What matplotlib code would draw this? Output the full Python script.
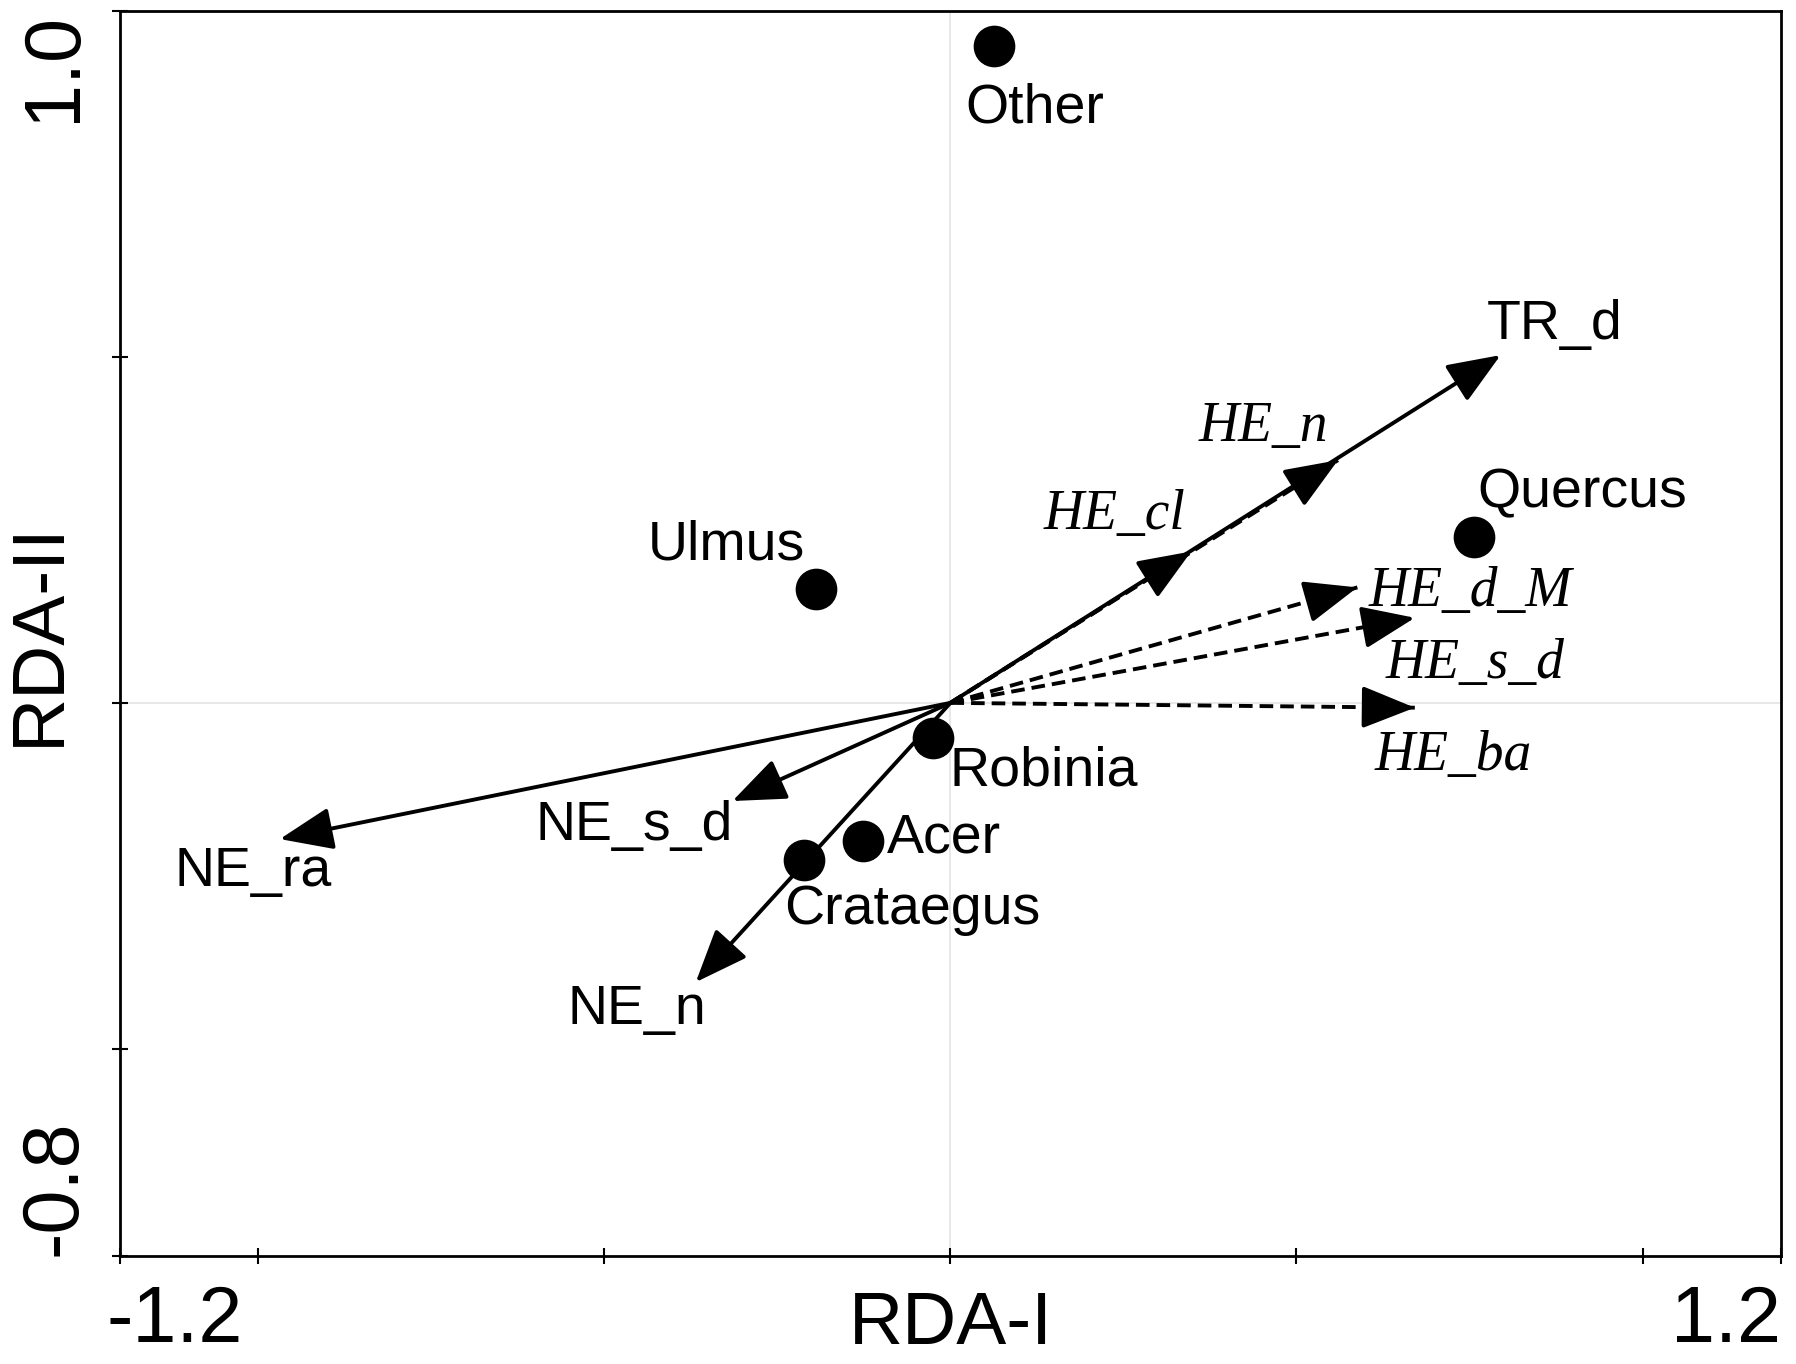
import matplotlib.pyplot as plt
import matplotlib.transforms as mtransforms

plt.rcParams['font.family'] = ['Liberation Sans', 'DejaVu Sans']

# species scores
species = ['Other', 'Quercus', 'Ulmus', 'Robinia', 'Acer', 'Crataegus']
sp_x = [0.063, 0.757, -0.194, -0.025, -0.126, -0.212]
sp_y = [0.950, 0.240, 0.164, -0.051, -0.200, -0.228]

# environmental vectors
env = ['TR_d', 'HE_n', 'HE_cl', 'HE_d_M', 'HE_s_d', 'HE_ba', 'NE_ra', 'NE_s_d', 'NE_n']
env_x = [0.795, 0.560, 0.348, 0.588, 0.671, 0.671, -0.969, -0.315, -0.368]
env_y = [0.503, 0.351, 0.219, 0.167, 0.123, -0.007, -0.197, -0.142, -0.404]
env_dashed = [False, True, True, True, True, True, False, False, False]

xticks = [-1.2, -1.0, -0.5, 0.0, 0.5, 1.0, 1.2]
xticklabels = ['-1.2', '', '', '', '', '', '1.2']
yticks = [-0.8, -0.5, 0.0, 0.5, 1.0]
yticklabels = ['-0.8', '', '', '', '1.0']

# label placement (offset points, ha)
sp_lab = {'Other': (29, -45, 'center'), 'Quercus': (2, 31, 'left'),
          'Ulmus': (-8, 32, 'right'), 'Robinia': (12, -24, 'left'),
          'Acer': (17, 2, 'left'), 'Crataegus': (-14, -36, 'left')}
env_lab = {'TR_d': (-10, 22, 'left'), 'HE_n': (-7, 24, 'right'),
           'HE_cl': (-4, 26, 'right'), 'HE_d_M': (8, -3, 'left'),
           'HE_s_d': (-21, -33, 'left'), 'HE_ba': (-29, -35, 'left'),
           'NE_ra': (-76, -24, 'left'), 'NE_s_d': (0, -18, 'right'),
           'NE_n': (-92, -20, 'left')}

fig = plt.figure(figsize=(17.96, 13.64), dpi=100)
ax = fig.add_axes([0.0668, 0.0792, 0.9248, 0.9124])
ax.set_xlim(-1.2, 1.2)
ax.set_ylim(-0.8, 1.0)

ax.axhline(0, color='#e4e4e4', lw=1.2, zorder=0)
ax.axvline(0, color='#e4e4e4', lw=1.2, zorder=0)

head = dict(arrowstyle='-|>,head_length=1.5,head_width=0.6', mutation_scale=22,
            color='black', lw=2.8, shrinkA=0, shrinkB=0)

for name, x, y, d in zip(env, env_x, env_y, env_dashed):
    if d:
        ax.plot([0, x], [0, y], color='black', lw=2.8, ls=(0, (3.5, 1.8)), zorder=2)
        ax.annotate('', xy=(x, y), xytext=(x * 0.9, y * 0.9),
                    arrowprops=head, zorder=3)
    else:
        ax.annotate('', xy=(x, y), xytext=(0, 0), arrowprops=head, zorder=3)
    dx, dy, ha = env_lab[name]
    if name.startswith('HE'):
        fp = dict(family='Liberation Serif', style='italic', fontsize=40)
    else:
        fp = dict(fontsize=40)
    ax.annotate(name, xy=(x, y), xytext=(dx, dy), textcoords='offset points',
                ha=ha, va='center', **fp)

ax.plot(sp_x, sp_y, 'o', color='black', ms=29, zorder=5)
for name, x, y in zip(species, sp_x, sp_y):
    dx, dy, ha = sp_lab[name]
    ax.annotate(name, xy=(x, y), xytext=(dx, dy), textcoords='offset points',
                ha=ha, va='center', fontsize=40)

ax.set_xticks(xticks)
ax.set_xticklabels(xticklabels, fontsize=57)
ax.set_yticks(yticks)
ax.set_yticklabels(yticklabels, fontsize=57, rotation=90, va='center')
ax.tick_params(direction='inout', length=12, width=1.5, pad=14)

xl = ax.get_xticklabels()
xl[0].set_ha('left')
xl[0].set_transform(xl[0].get_transform() + mtransforms.ScaledTranslation(-10 / 72, 0, fig.dpi_scale_trans))
xl[-1].set_ha('right')
yl = ax.get_yticklabels()
yl[0].set_va('bottom')
yl[-1].set_va('top')

for s in ax.spines.values():
    s.set_linewidth(2)

ax.set_xlabel('RDA-I', fontsize=54)
ax.xaxis.set_label_coords(0.5, -0.027)
ax.set_ylabel('RDA-II', fontsize=54)
ax.yaxis.set_label_coords(-0.028, 0.5)

fig.savefig('out.png', dpi=100)
